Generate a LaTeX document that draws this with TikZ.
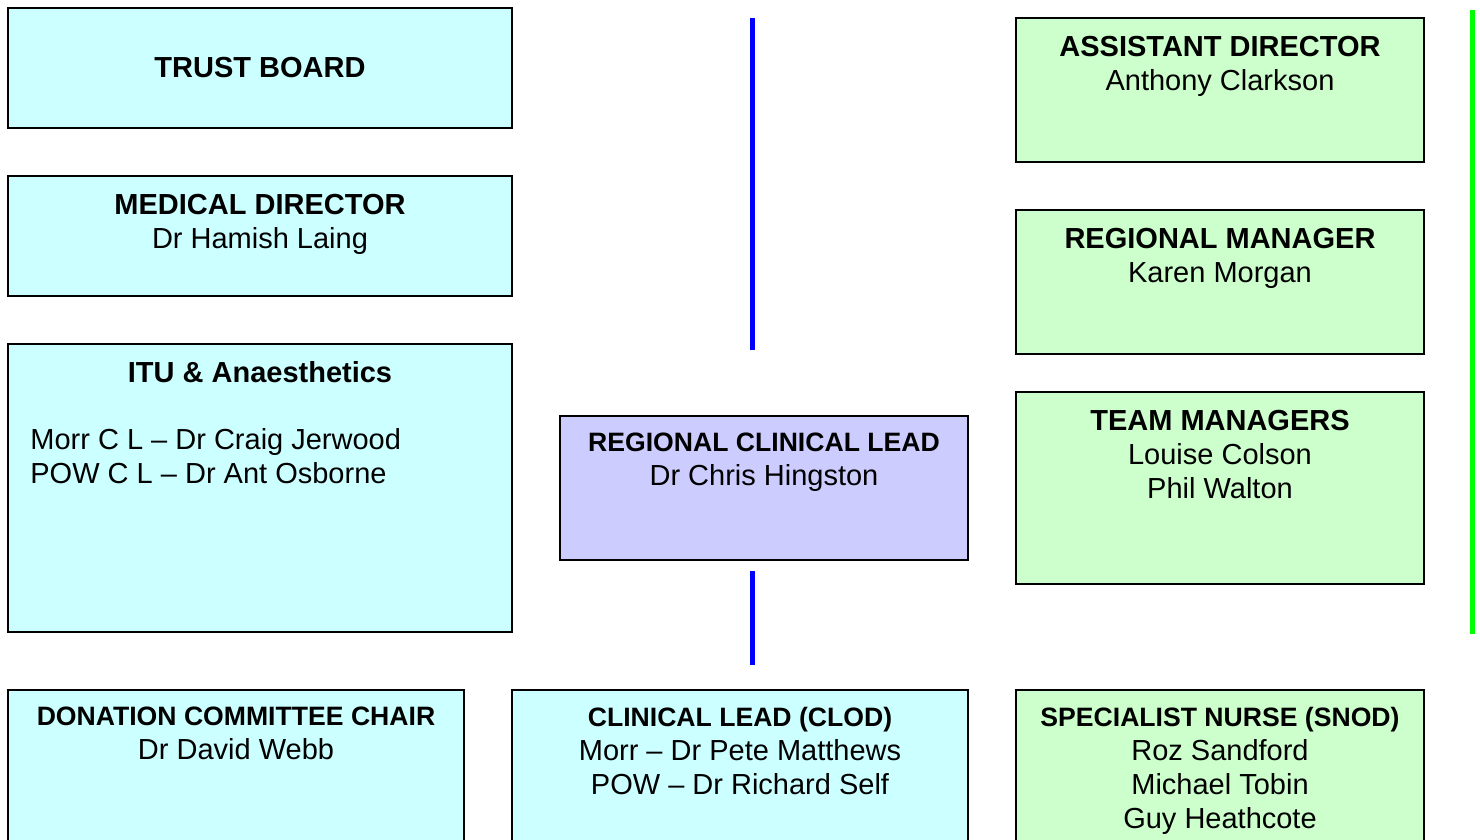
\documentclass[tikz,border=0pt]{standalone}
\usepackage{fontspec}
\setmainfont{Liberation Sans}
\usepackage{tikz}
\usetikzlibrary{positioning}

\definecolor{boxcyan}{HTML}{CCFFFF}
\definecolor{boxgreen}{HTML}{CCFFCC}
\definecolor{boxlilac}{HTML}{CCCCFF}
\definecolor{lineblue}{HTML}{0000FF}
\definecolor{linegreen}{HTML}{00FF00}

\newcommand{\bigtitle}[1]{{\fontsize{14.5}{17}\selectfont\bfseries #1}}
\newcommand{\smalltitle}[1]{{\fontsize{13.3}{17}\selectfont\bfseries #1}}

\tikzset{
  orgbox/.style={draw=black, line width=1pt, inner sep=0pt, outer sep=0pt, anchor=north west},
  cyanbox/.style={orgbox, fill=boxcyan},
  greenbox/.style={orgbox, fill=boxgreen},
  lilacbox/.style={orgbox, fill=boxlilac},
  boxtext/.style={align=center, inner sep=0pt, anchor=north, font=\fontsize{14.5}{17}\selectfont},
  bluerule/.style={draw=lineblue, line width=2.5pt},
  greenrule/.style={draw=linegreen, line width=2.5pt}
}

\begin{document}
\begin{tikzpicture}[x=0.5pt, y=-0.5pt]
\useasboundingbox (0,0) rectangle (1480,840);
\clip (0,0) rectangle (1480,840);

% left column
\node[cyanbox, minimum width=252pt, minimum height=60pt] (trust) at (8,8) {};
\node[boxtext, anchor=center] (trusttxt) at (trust.center) {\bigtitle{TRUST BOARD}};
\node[cyanbox, minimum width=252pt, minimum height=60pt] (meddir) at (8,176) {};
\node[boxtext, yshift=-8.7pt] (meddirtxt) at (meddir.north) {\bigtitle{MEDICAL DIRECTOR}\\Dr Hamish Laing};
\node[cyanbox, minimum width=252pt, minimum height=144pt] (itu) at (8,344) {};
\node[boxtext, yshift=-8.7pt] (itutxt) at (itu.north) {\bigtitle{ITU \& Anaesthetics}};
\node[boxtext, align=left, anchor=north west] (itunames) at (30,428) {Morr C L – Dr Craig Jerwood\\POW C L – Dr Ant Osborne};

% middle column
\node[lilacbox, minimum width=204pt, minimum height=72pt] (rcl) at (560,416) {};
\node[boxtext, yshift=-8.3pt] (rcltxt) at (rcl.north) {\smalltitle{REGIONAL CLINICAL LEAD}\\Dr Chris Hingston};

% right column
\node[greenbox, minimum width=204pt, minimum height=72pt] (asstdir) at (1016,18) {};
\node[boxtext, yshift=-8.7pt] (asstdirtxt) at (asstdir.north) {\bigtitle{ASSISTANT DIRECTOR}\\Anthony Clarkson};
\node[greenbox, minimum width=204pt, minimum height=72pt] (regmgr) at (1016,210) {};
\node[boxtext, yshift=-8.7pt] (regmgrtxt) at (regmgr.north) {\bigtitle{REGIONAL MANAGER}\\Karen Morgan};
\node[greenbox, minimum width=204pt, minimum height=96pt] (teammgr) at (1016,392) {};
\node[boxtext, yshift=-8.7pt] (teammgrtxt) at (teammgr.north) {\bigtitle{TEAM MANAGERS}\\Louise Colson\\Phil Walton};

% bottom row
\node[cyanbox, minimum width=228pt, minimum height=100pt] (donation) at (8,690) {};
\node[boxtext, yshift=-8.3pt] (donationtxt) at (donation.north) {\smalltitle{DONATION COMMITTEE CHAIR}\\Dr David Webb};
\node[cyanbox, minimum width=228pt, minimum height=100pt] (clod) at (512,690) {};
\node[boxtext, yshift=-8.3pt] (clodtxt) at (clod.north) {\smalltitle{CLINICAL LEAD (CLOD)}\\Morr – Dr Pete Matthews\\POW – Dr Richard Self};
\node[greenbox, minimum width=204pt, minimum height=100pt] (snod) at (1016,690) {};
\node[boxtext, yshift=-8.3pt] (snodtxt) at (snod.north) {\smalltitle{SPECIALIST NURSE (SNOD)}\\Roz Sandford\\Michael Tobin\\Guy Heathcote};

% rules
\coordinate (bluetop) at (752,18);
\coordinate (bluemid) at (752,350);
\coordinate (bluelow) at (752,571);
\coordinate (bluebot) at (752,665);
\coordinate (greentop) at (1472,10);
\coordinate (greenbot) at (1472,634);
\draw[bluerule] (bluetop) -- (bluemid);
\draw[bluerule] (bluelow) -- (bluebot);
\draw[greenrule] (greentop) -- (greenbot);
\end{tikzpicture}
\end{document}
